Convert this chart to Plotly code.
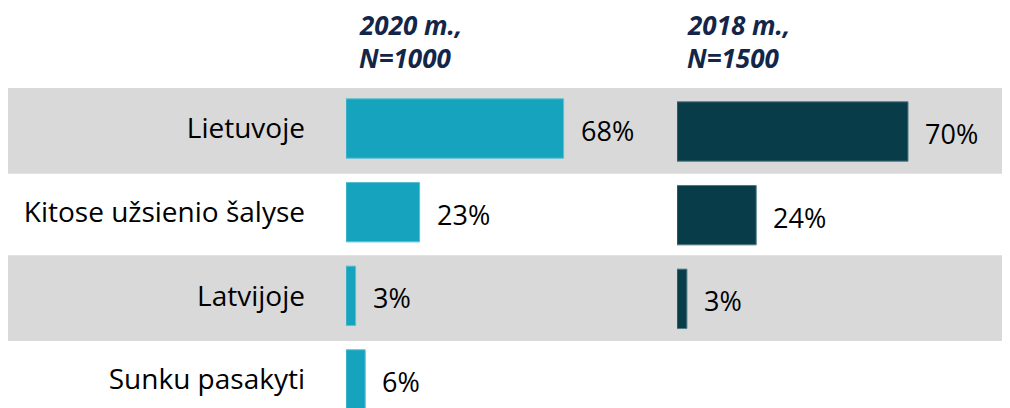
"""Kur gyvena respondentai: 2020 m. ir 2018 m. palyginimas"""

import plotly.graph_objects as go

# duomenys
kategorijos = ["Lietuvoje", "Kitose užsienio šalyse", "Latvijoje", "Sunku pasakyti"]
reiksmes_2020 = [68, 23, 3, 6]
kategorijos_2018 = ["Lietuvoje", "Kitose užsienio šalyse", "Latvijoje"]
reiksmes_2018 = [70, 24, 3]
antraste_2020 = ["2020 m.,", "N=1000"]
antraste_2018 = ["2018 m.,", "N=1500"]

SPALVA_2020 = "#15A3BD"
SPALVA_2018 = "#083C48"
PILKA = "#D9D9D9"
TAMSI = "#13264A"
SRIFTAS = "Open Sans"

W, H = 1010, 408
POSLINKIS = 8  # puslapio body margin, kuri pastumia grafika


def main():
    fig = go.Figure()

    fig.add_trace(go.Bar(
        x=reiksmes_2020, y=kategorijos, orientation="h", width=0.71,
        marker=dict(color=SPALVA_2020, line=dict(color="#5CC0D2", width=1)),
        xaxis="x", yaxis="y", hoverinfo="x+y",
    ))
    fig.add_trace(go.Bar(
        x=reiksmes_2018, y=kategorijos_2018, orientation="h", width=0.71,
        marker=dict(color=SPALVA_2018, line=dict(color="#4E7A84", width=1)),
        xaxis="x2", yaxis="y2", hoverinfo="x+y",
    ))

    anotacijos = []
    for k, v in zip(kategorijos, reiksmes_2020):
        anotacijos.append(dict(x=v, y=k, xref="x", yref="y", text=f"{v}%",
                               showarrow=False, xanchor="left", xshift=15, yshift=-2,
                               font=dict(size=27, color="black", family=SRIFTAS)))
    for k, v in zip(kategorijos_2018, reiksmes_2018):
        anotacijos.append(dict(x=v, y=k, xref="x2", yref="y2", text=f"{v}%",
                               showarrow=False, xanchor="left", xshift=15, yshift=-2,
                               font=dict(size=27, color="black", family=SRIFTAS)))

    # antrastes virs stulpeliu
    for x0, eilutes in ((358, antraste_2020), (686, antraste_2018)):
        for i, t in enumerate(eilutes):
            anotacijos.append(dict(x=(x0 - POSLINKIS) / W,
                                   y=1 - (25 + 33 * i - POSLINKIS) / H,
                                   xref="paper", yref="paper",
                                   text=f"<b><i>{t}</i></b>", showarrow=False,
                                   xanchor="left", yanchor="middle", borderpad=0,
                                   font=dict(size=26, color=TAMSI, family=SRIFTAS)))

    # pilkos juostos
    juostos = []
    for i in (0, 2):
        juostos.append(dict(type="rect", xref="paper", yref="y", x0=0, x1=1,
                            y0=i - 0.485, y1=i + 0.54, fillcolor=PILKA,
                            line=dict(width=0), layer="below"))

    zingsnis = 83.67  # px tarp eiluciu
    y0_2020 = 128.5 - POSLINKIS
    y0_2018 = 131.5 - POSLINKIS

    fig.update_layout(
        width=W, height=H,
        margin=dict(l=0, r=0, t=0, b=0),
        plot_bgcolor="white", paper_bgcolor="white",
        showlegend=False,
        font=dict(family=SRIFTAS, color="black"),
        annotations=anotacijos,
        shapes=juostos,
        xaxis=dict(domain=[(346 - POSLINKIS) / W, (660 - POSLINKIS) / W],
                   range=[0, 314 / 3.2], visible=False),
        xaxis2=dict(domain=[(677 - POSLINKIS) / W, 1],
                    range=[0, (W - 677 + POSLINKIS) / 3.3], visible=False),
        yaxis=dict(categoryorder="array", categoryarray=kategorijos,
                   range=[(H - y0_2020) / zingsnis, -y0_2020 / zingsnis],
                   anchor="x", showgrid=False, zeroline=False,
                   showline=False, ticks="", ticklabelstandoff=40,
                   tickfont=dict(size=28, color="black", family=SRIFTAS)),
        yaxis2=dict(categoryorder="array", categoryarray=kategorijos,
                    range=[(H - y0_2018) / zingsnis, -y0_2018 / zingsnis],
                    anchor="x2", overlaying="y",
                    showgrid=False, zeroline=False, showticklabels=False),
    )

    fig.write_html("out.html")


if __name__ == "__main__":
    main()
